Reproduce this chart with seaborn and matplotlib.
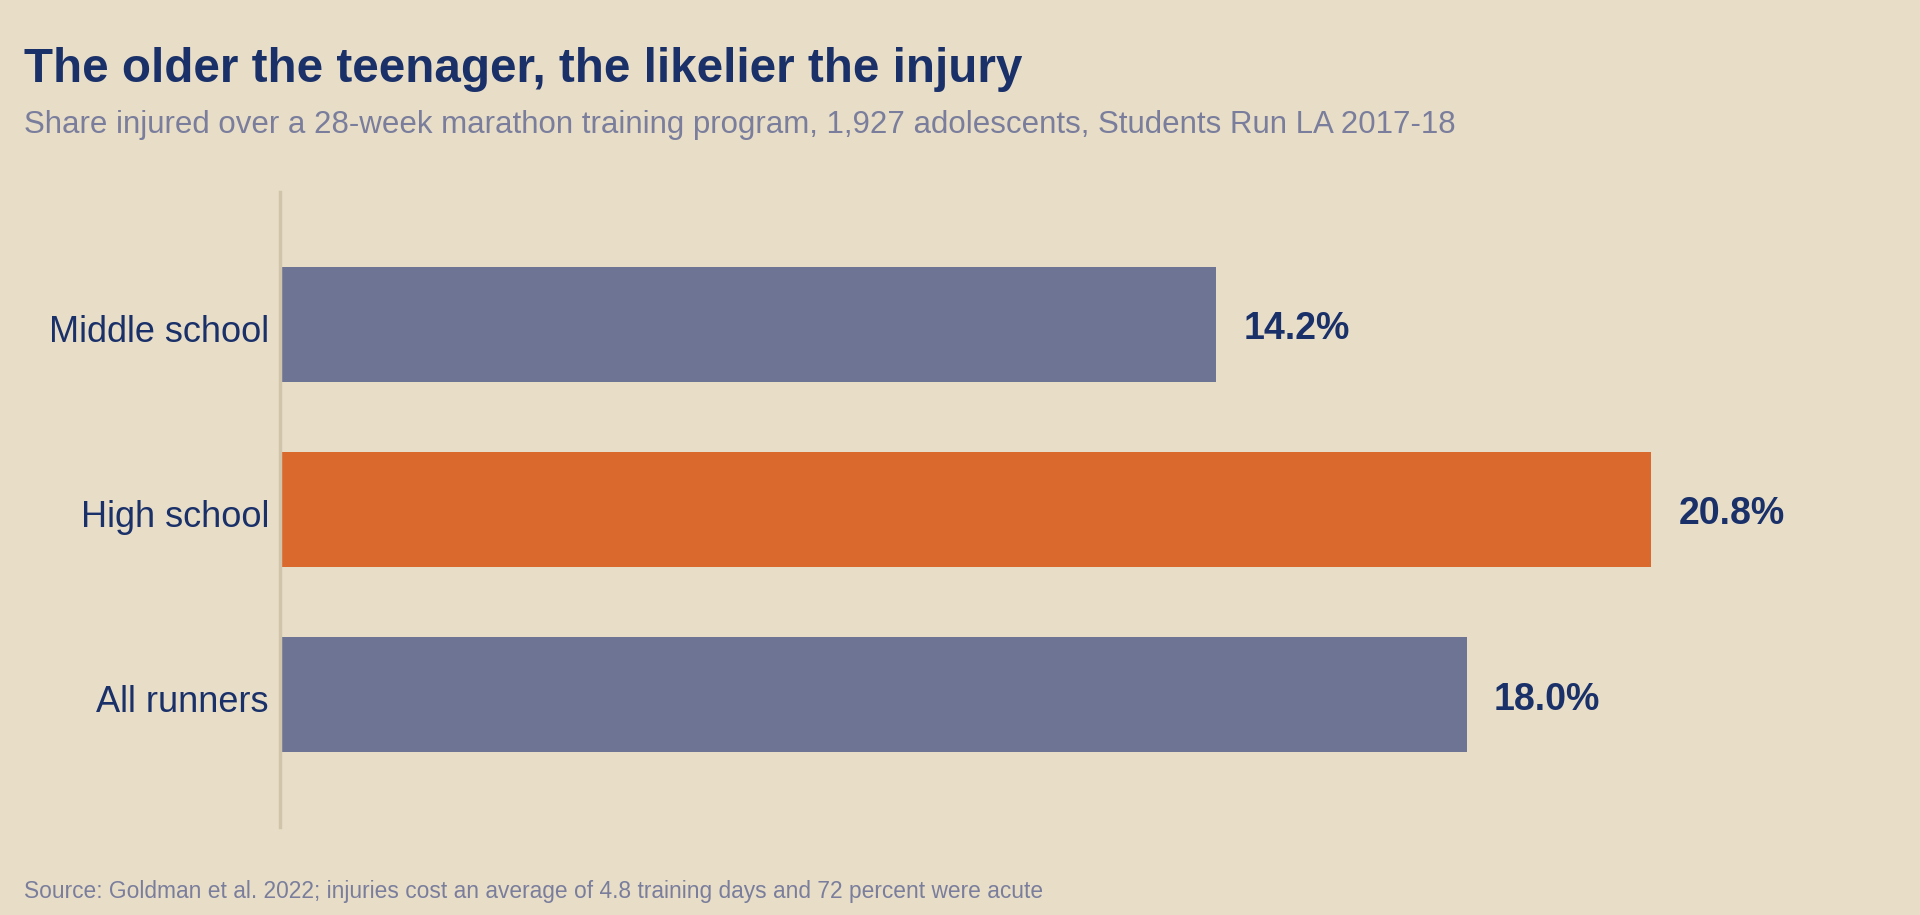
import matplotlib
matplotlib.use("Agg")
import matplotlib.pyplot as plt
import matplotlib.transforms as mtransforms
import seaborn as sns
import pandas as pd

# veriler
groups = ["Middle school", "High school", "All runners"]
injured_pct = [14.2, 20.8, 18.0]
bar_colors = ["#6E7493", "#D9692D", "#6E7493"]

title = "The older the teenager, the likelier the injury"
subtitle = "Share injured over a 28-week marathon training program, 1,927 adolescents, Students Run LA 2017-18"
source = "Source: Goldman et al. 2022; injuries cost an average of 4.8 training days and 72 percent were acute"

bg = "#E8DEC8"
navy = "#1A3069"
gray = "#7A7E9C"

sns.set_theme(style="white")
plt.rcParams["font.family"] = ["Liberation Sans", "DejaVu Sans"]

df = pd.DataFrame({"group": groups, "pct": injured_pct})

fig = plt.figure(figsize=(19.2, 9.15), dpi=100, facecolor=bg)
ax = fig.add_axes([280 / 1920, 1 - 827 / 915, 1600 / 1920, 635 / 915])
ax.set_facecolor(bg)

sns.barplot(data=df, x="pct", y="group", hue="group", palette=bar_colors,
            legend=False, width=0.62, saturation=1, linewidth=0, ax=ax)

ax.set_xlim(0, 1600 / 65.93)
ax.set_ylim(2.716, -0.716)

for i, v in enumerate(injured_pct):
    ax.annotate(f"{v:.1f}%", xy=(v, i), xytext=(27, -1), textcoords="offset pixels",
                ha="left", va="center_baseline", fontsize=27, fontweight="bold", color=navy)

ax.set_xlabel("")
ax.set_ylabel("")
ax.set_xticks([])
ax.tick_params(axis="y", length=0, pad=8, labelsize=26, labelcolor=navy)
# etiketleri biraz aşağı kaydır
shift = mtransforms.ScaledTranslation(0, -4 / 100, fig.dpi_scale_trans)
for lab in ax.get_yticklabels():
    lab.set_verticalalignment("center_baseline")
    lab.set_transform(lab.get_transform() + shift)
for s in ["top", "right", "bottom"]:
    ax.spines[s].set_visible(False)
ax.spines["left"].set_color("#D0C5AA")
ax.spines["left"].set_linewidth(2.5)

fig.text(24 / 1920, 1 - 82 / 915, title, fontsize=34.3, fontweight="bold",
         color=navy, va="baseline", ha="left")
fig.text(24 / 1920, 1 - 133 / 915, subtitle, fontsize=22.5, color=gray,
         va="baseline", ha="left")
fig.text(24 / 1920, 1 - 898 / 915, source, fontsize=16.4, color=gray,
         va="baseline", ha="left")

fig.savefig("out.png", dpi=100, facecolor=bg)
